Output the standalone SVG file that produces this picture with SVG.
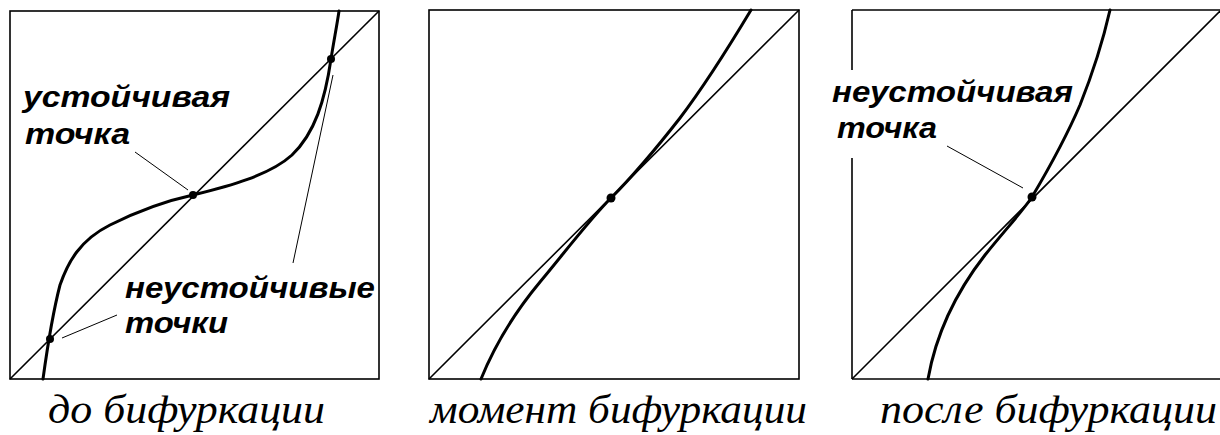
<svg xmlns="http://www.w3.org/2000/svg" width="1220" height="435" viewBox="0 0 1220 435">
<style>
.frame{fill:none;stroke:#000;stroke-width:1.6}
.diag{fill:none;stroke:#000;stroke-width:1.6}
.curve{fill:none;stroke:#000;stroke-width:3;stroke-linecap:round;stroke-linejoin:round}
.lead{fill:none;stroke:#000;stroke-width:1}
.dot{fill:#000}
.lbl{font-family:"Liberation Sans",Arial,sans-serif;font-weight:bold;font-style:italic;font-size:30px;fill:#000}
.cap{font-family:"Liberation Serif","Times New Roman",serif;font-style:italic;font-size:40px;fill:#000}
</style>
<rect width="1220" height="435" fill="#fff"/>
<g id="panel-before">
  <rect class="frame" x="10" y="11" width="369" height="368"/>
  <line class="diag" x1="10" y1="379" x2="379" y2="11"/>
  <path class="curve" d="M43,379 C47,350 53,312 60,285 C68,262 80,240 110,225 C140,210 170,200 193,195 C230,186 270,175 292,155 C315,133 325,100 331,59 C334,40 337,25 339,11"/>
  <circle class="dot" cx="50" cy="339" r="4"/>
  <circle class="dot" cx="193" cy="195" r="4"/>
  <circle class="dot" cx="331" cy="59" r="4"/>
  <text class="lbl" x="23" y="107" textLength="207" lengthAdjust="spacingAndGlyphs">устойчивая</text>
  <text class="lbl" x="25" y="144" textLength="105" lengthAdjust="spacingAndGlyphs">точка</text>
  <text class="lbl" x="125" y="298" textLength="250" lengthAdjust="spacingAndGlyphs">неустойчивые</text>
  <text class="lbl" x="125" y="333" textLength="103" lengthAdjust="spacingAndGlyphs">точки</text>
  <text class="cap" x="48" y="423" textLength="277" lengthAdjust="spacingAndGlyphs">до бифуркации</text>
</g>
<g id="panel-moment">
  <rect class="frame" x="429" y="10" width="370" height="369"/>
  <line class="diag" x1="429" y1="379" x2="799" y2="10"/>
  <path class="curve" d="M481,379 C492,352 510,318 540,282 C565,252 590,219 611,198 C632,177 655,150 680,118 C705,85 730,45 751,10"/>
  <circle class="dot" cx="611" cy="198" r="4.5"/>
  <text class="cap" x="430" y="423" textLength="377" lengthAdjust="spacingAndGlyphs">момент бифуркации</text>
</g>
<g id="panel-after">
  <line class="frame" x1="852" y1="10" x2="1222" y2="10"/>
  <line class="frame" x1="852" y1="379" x2="1222" y2="379"/>
  <line class="frame" x1="852" y1="10" x2="852" y2="70"/>
  <line class="frame" x1="852" y1="158" x2="852" y2="379"/>
  <line class="diag" x1="852" y1="379" x2="1220" y2="11"/>
  <path class="curve" d="M928,379 C934,345 950,300 985,255 C1005,230 1022,212 1032,197 C1045,175 1065,140 1080,105 C1092,75 1102,45 1110,10"/>
  <circle class="dot" cx="1032" cy="197" r="4.5"/>
  <text class="lbl" x="832" y="102" textLength="241" lengthAdjust="spacingAndGlyphs">неустойчивая</text>
  <text class="lbl" x="837" y="138" textLength="100" lengthAdjust="spacingAndGlyphs">точка</text>
  <text class="cap" x="880" y="423" textLength="337" lengthAdjust="spacingAndGlyphs">после бифуркации</text>
</g>
<g id="connectors">
  <line class="lead" x1="135" y1="152" x2="188" y2="190"/>
  <line class="lead" x1="62" y1="338" x2="117" y2="315"/>
  <line class="lead" x1="293" y1="263" x2="333" y2="75"/>
  <line class="lead" x1="947" y1="146" x2="1023" y2="188"/>
</g>
</svg>
